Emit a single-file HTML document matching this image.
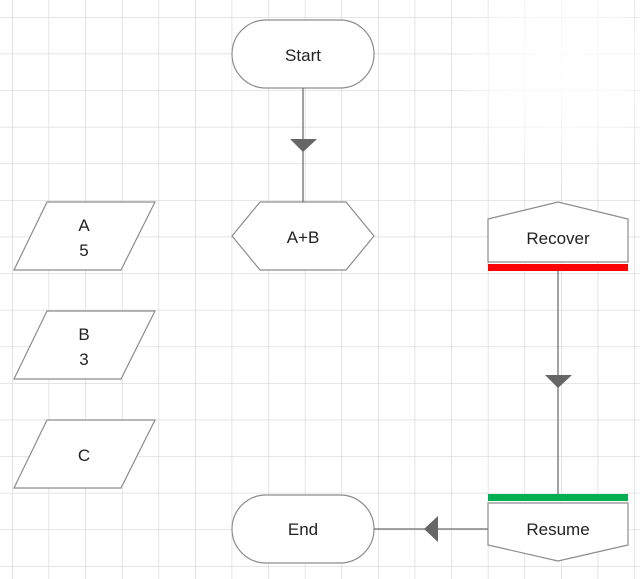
<!DOCTYPE html>
<html><head><style>
body{margin:0;background:#fff}
</style></head><body>
<svg width="640" height="579" xmlns="http://www.w3.org/2000/svg" style="display:block;font-family:'Liberation Sans',sans-serif">
<defs>
<pattern id="g" x="12" y="17" width="36.6" height="36.6" patternUnits="userSpaceOnUse">
<path d="M0 0H36.6M0 0V36.6" stroke="#d6d6d6" stroke-width="1.3" fill="none"/>
</pattern>
<radialGradient id="f" cx="560" cy="70" r="110" gradientUnits="userSpaceOnUse">
<stop offset="0" stop-color="#fff" stop-opacity="0.9"/><stop offset="0.6" stop-color="#fff" stop-opacity="0.6"/><stop offset="1" stop-color="#fff" stop-opacity="0"/>
</radialGradient>
</defs>
<rect width="640" height="579" fill="url(#g)"/>
<rect x="440" y="0" width="200" height="180" fill="url(#f)"/>
<g stroke="#8c8c8c" stroke-width="1.2" fill="#fff">
<rect x="232" y="20" width="142" height="68" rx="34"/>
<polygon points="232,236 260,202 346,202 374,236 346,270 260,270"/>
<polygon points="47,202 155,202 121,270 14,270"/>
<polygon points="47,311 155,311 121,379 14,379"/>
<polygon points="47,420 155,420 121,488 14,488"/>
<polygon points="488,219 558,202 628,219 628,262 488,262"/>
<polygon points="488,503 628,503 628,545 558,561 488,545"/>
<rect x="232" y="495" width="142" height="68" rx="34"/>
</g>
<g stroke="#707070" stroke-width="1.3">
<line x1="303" y1="88" x2="303" y2="202"/>
<line x1="558" y1="271" x2="558" y2="494"/>
<line x1="374" y1="529" x2="488" y2="529"/>
</g>
<g fill="#666">
<polygon points="290,139 317,139 303,152"/>
<polygon points="545,375 572,375 558,388"/>
<polygon points="424,529 438,516 438,542"/>
</g>
<rect x="488" y="264" width="140" height="7" fill="#ff0000"/>
<rect x="488" y="494" width="140" height="7" fill="#00b050"/>
<g font-size="17" fill="#222" text-anchor="middle">
<text x="303" y="61">Start</text>
<text x="303" y="243">A+B</text>
<text x="84" y="231">A</text><text x="84" y="256">5</text>
<text x="84" y="340">B</text><text x="84" y="365">3</text>
<text x="84" y="461">C</text>
<text x="558" y="244">Recover</text>
<text x="558" y="535">Resume</text>
<text x="303" y="535">End</text>
</g>
</svg>
</body></html>
